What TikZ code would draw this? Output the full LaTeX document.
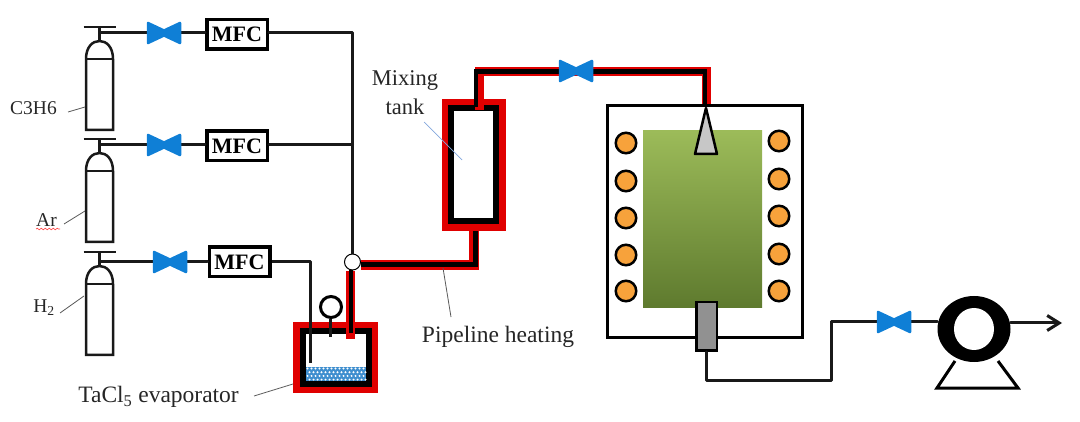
\documentclass[tikz,border=0pt]{standalone}
\usepackage{fontspec}
\setmainfont{Liberation Serif}
\usetikzlibrary{shapes.geometric,arrows.meta,decorations.pathmorphing}
\definecolor{valveblue}{HTML}{0F7FD6}
\definecolor{heatred}{HTML}{E00000}
\definecolor{tubetop}{HTML}{9CBB59}
\definecolor{tubebottom}{HTML}{5E7A2E}
\definecolor{coilorange}{HTML}{F7A23B}
\definecolor{liquidblue}{HTML}{3F8FCF}

\begin{document}
\begin{tikzpicture}[x=1pt,y=-1pt]
    \tikzset{
        pipe/.style={draw=black!90,line width=3pt,line cap=round,line join=round},
        heatpipe/.style={draw=heatred,line width=9pt,line join=miter},
        core/.style={draw=black,line width=4.5pt,line join=miter},
        thin leader/.style={draw=black!65,line width=.8pt},
        label/.style={inner sep=1pt,text=black!85,font=\fontsize{23.5}{28}\selectfont},
        gas label/.style={label,anchor=east,font=\fontsize{19.5}{24}\selectfont},
        mfc/.style={draw=black,line width=3.5pt,fill=white,minimum width=60.5pt,minimum height=29.5pt,inner sep=0pt,font=\fontsize{22}{24}\selectfont\bfseries},
        heatbox/.style={fill=heatred,inner sep=0pt},
        wallbox/.style={draw=black,line width=6pt,fill=white,inner sep=0pt},
        heater/.style={circle,draw=black,line width=2.5pt,fill=coilorange,minimum size=20.5pt,inner sep=0pt},
        gasbottle/.pic={
            \draw[black!90,line width=2.5pt] (-16,0) -- (16,0) (0,0) -- (0,14);
            \draw[black!90,line width=2.5pt,fill=white] (-13.5,32) .. controls (-13.5,20) and (-7,14) .. (0,14)
                .. controls (7,14) and (13.5,20) .. (13.5,32) -- (13.5,103) -- (-13.5,103) -- cycle;
            \draw[black!90,line width=2pt] (-13.5,32) -- (13.5,32);
        },
        valve/.pic={
            \fill[valveblue,draw=valveblue,line width=2.5pt,line join=round]
                (-16,-10) -- (0,-2.5) -- (16,-10) -- (16,10) -- (0,2.5) -- (-16,10) -- cycle;
        }
    }
    \useasboundingbox (0,0) rectangle (1080,422);

    % gas lines
    \foreach \name/\y in {A/27,B/139,C/252}
        \pic at (99.5,\y) {gasbottle};
    \coordinate (tapA) at (99.5,33);
    \coordinate (tapB) at (99.5,145);
    \coordinate (tapC) at (99.5,262);
    \coordinate (valveA) at (164,33);
    \coordinate (valveB) at (164,145);
    \coordinate (valveC) at (170,262);
    \coordinate (valveD) at (576,71);
    \coordinate (valveE) at (894,322);
    \node[mfc] (mfcA) at (237,34.5) {MFC};
    \node[mfc] (mfcB) at (237,146) {MFC};
    \node[mfc] (mfcC) at (239.5,262) {MFC};
    \coordinate (busA) at (352.5,33);
    \coordinate (busB) at (352.5,145);
    \node[circle,inner sep=0pt,minimum size=17pt] (mix) at (352.5,262) {};
    \draw[pipe] (tapA) -- (valveA) -- (mfcA.west |- valveA);
    \draw[pipe] (tapB) -- (valveB) -- (mfcB.west |- valveB);
    \draw[pipe] (tapC) -- (valveC) -- (mfcC.west);
    \draw[pipe] (mfcA.east |- busA) -- (busA) -- (busB) -- (mix.north);
    \draw[pipe] (mfcB.east |- busB) -- (busB);

    % evaporator
    \node[heatbox,minimum width=85pt,minimum height=71pt] (evapheat) at (335.5,357.5) {};
    \node[wallbox,minimum width=66pt,minimum height=53pt] (evap) at (336,357.5) {};
    \fill[liquidblue] (306,367) rectangle (366,381);
    \foreach \i in {0,...,14}
        \foreach \j in {0,...,3}
            \fill[white] ({307.5+4*\i+mod(\j,2)*2},{368.5+3.7*\j}) circle (1.1);
    \coordinate (evapin) at (310,363);
    \coordinate (evapout) at (350.5,339);
    \coordinate (bendC) at (310,262);
    \draw[pipe,line cap=butt] (mfcC.east) -- (bendC) -- (evapin);
    \node[circle,draw=black,line width=3pt,fill=white,minimum size=21pt,inner sep=0pt] (gauge) at (331,307) {};
    \coordinate (gaugeend) at (330,337);
    \draw[pipe,line cap=butt] (gauge.south -| gaugeend) -- (gaugeend);

    % heated line to the mixing tank
    \node[heatbox,minimum width=64pt,minimum height=132pt] (tankheat) at (474,165) {};
    \node[wallbox,minimum width=45pt,minimum height=113pt] (tank) at (473.5,164.5) {};
    \coordinate (bendE) at (473.5,265);
    \coordinate (bendF) at (479,71.5);
    \coordinate (bendG) at (706,71.5);
    \coordinate (bendH) at (352,265);
    \coordinate (tanktop) at (479,110);
    \coordinate (burnertop) at (706,106);
    \draw[heatpipe] (evapout) -- (evapout |- mix.south);
    \draw[heatpipe,line width=10pt] (mix.east |- bendH) -- (bendE) -- ([yshift=2pt]bendE |- tankheat.south);
    \draw[heatpipe] (tanktop) -- (bendF) -- (bendG) -- (burnertop);
    \draw[core] (351,333) -- (351,270);
    \draw[core,line width=5pt] (mix.east |- bendH) -- (475,265) -- (475,231);
    \draw[core] (476,107) -- (476,71.5) -- (705,71.5) -- (705,105);

    % reactor
    \node[draw=black,line width=3pt,minimum width=195pt,minimum height=232pt,inner sep=0pt] (furnace) at (704.5,222) {};
    \node[top color=tubetop,bottom color=tubebottom,minimum width=119pt,minimum height=177pt,inner sep=0pt] (tube) at (702.5,219.5) {};
    \foreach \y [count=\i] in {143,181,218,255,291}
        \node[heater] (heatL\i) at (626,\y) {};
    \foreach \y [count=\i] in {141,179,216,254,291}
        \node[heater] (heatR\i) at (779,\y) {};
    \draw[black,line width=2.5pt,fill=black!22,line join=round] (706,108) -- (717,154) -- (695,154) -- cycle;
    \node[draw=black,line width=2.5pt,fill=black!43,minimum width=20.5pt,minimum height=48.5pt,inner sep=0pt] (outlet) at (706.5,326.5) {};

    % exhaust
    \coordinate (bendJ) at (831,380);
    \coordinate (bendK) at (831,322);
    \node[ellipse,fill=black,minimum width=73pt,minimum height=66pt,inner sep=0pt] (pump) at (974,329) {};
    \node[ellipse,fill=white,minimum width=40pt,minimum height=42pt,inner sep=0pt] (pumpeye) at (974,329) {};
    \coordinate (exit) at (1062,323);
    \draw[pipe] (outlet.south) -- (outlet.south |- bendJ) -- (bendJ) -- (bendK) -- (valveE) -- (pump.west |- valveE);
    \draw[pipe,-{Straight Barb[length=12pt,width=15pt,line width=3pt]}] (pump.east |- exit) -- (exit);
    \coordinate (footL) at (937,388);
    \coordinate (footR) at (1018,388);
    \draw[black,line width=3pt,line join=miter] (955,361) -- (footL) -- (footR) -- (998,361);

    % valves and joint on top of the lines
    \foreach \v in {valveA,valveB,valveC,valveD,valveE}
        \pic at (\v) {valve};
    \node[circle,draw=black,line width=1pt,fill=white,minimum size=16pt,inner sep=0pt] at (mix) {};

    % labels
    \node[gas label] (gasA) at (58,108) {C3H6};
    \node[gas label] (gasB) at (58,220) {Ar};
    \node[gas label] (gasC) at (56,308) {H\textsubscript{2}};
    \node[label,anchor=east] (evaplabel) at (240,397) {TaCl\textsubscript{5} evaporator};
    \node[label,align=center,font=\fontsize{22.5}{29}\selectfont] (tanklabel) at (405,93) {Mixing\\tank};
    \node[label] (heatlabel) at (498,337) {Pipeline heating};
    \coordinate (evapedge) at (293,384);
    \draw[thin leader] (68,112) -- (85,107);
    \draw[thin leader] (64,224) -- (85,211);
    \draw[thin leader] (60,313) -- (84,296);
    \draw[thin leader] (254,396) -- (evapedge);
    \draw[draw=cyan!50!blue!50!white,line width=.7pt] (424,122) -- (462,160);
    \draw[thin leader] (443,268) -- (451,317);
    \draw[red!70,line width=.7pt,decorate,decoration={snake,amplitude=.8pt,segment length=4pt}] (36,229) -- (60,229);
\end{tikzpicture}
\end{document}
